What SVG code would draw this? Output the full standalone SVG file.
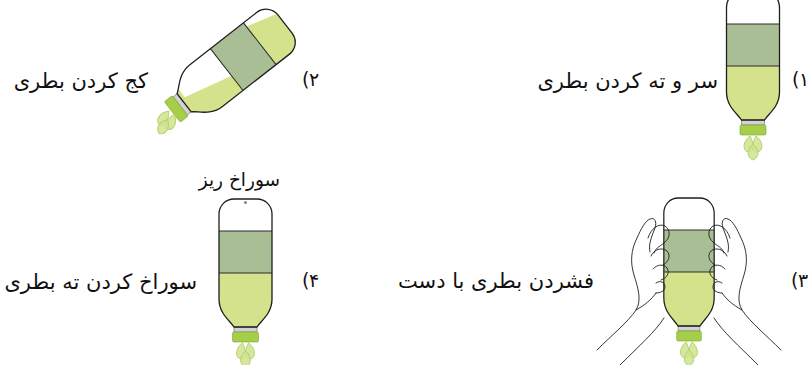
<svg xmlns="http://www.w3.org/2000/svg" xmlns:xlink="http://www.w3.org/1999/xlink" width="808" height="365" viewBox="0 0 808 365">
  <style>
    .label { font-family: "DejaVu Sans", "Noto Sans", sans-serif; font-size: 21px; fill: #111; }
    .small { font-family: "DejaVu Sans", "Noto Sans", sans-serif; font-size: 18.5px; fill: #111; }
    .num { font-family: "DejaVu Sans", "Noto Sans", sans-serif; font-size: 19px; fill: #111; }
    .liquid { fill: #d4e38b; }
    .band { fill: #a9be95; }
    .edge { fill: none; stroke: #1e1e1e; stroke-width: 1.3; }
    .seam { stroke: #2a2a2a; stroke-width: 1; }
    .drop { fill: #cfe38f; fill-opacity: 0.85; stroke: #b6d26b; stroke-width: 1; }
    .hand { fill: none; stroke: #1e1e1e; stroke-width: 0.9; stroke-linecap: round; stroke-linejoin: round; }
  </style>
  <defs>
    <!-- bottle body, local coords: top centre at 0,0, cap pointing down -->
    <path id="body" d="M -26.5 15 A 15 15 0 0 1 -11.5 0 L 11.5 0 A 15 15 0 0 1 26.5 15 L 26.5 100 C 26.5 115 15 122 11.5 128 L -11.5 128 C -15 122 -26.5 115 -26.5 100 Z"/>
    <clipPath id="body-clip"><use xlink:href="#body"/></clipPath>
    <g id="neck-cap">
      <rect x="-11.5" y="128" width="23" height="5" fill="#d2d2d2" stroke="#6a6a6a" stroke-width="0.6"/>
      <rect x="-13" y="133" width="26" height="10" rx="1.5" fill="#a5cf48" stroke="#7da336" stroke-width="0.6"/>
    </g>
    <!-- falling drops, origin at the cap's lower edge -->
    <g id="drops">
      <path class="drop" d="M -3 1 C -10 6 -11 15 -5 17 C 0 18 2 10 -3 1 Z"/>
      <path class="drop" d="M 3 1 C 10 6 11 15 5 17 C 0 18 -2 10 3 1 Z"/>
      <path class="drop" d="M 0 9 C -6 14 -7 22 0 25 C 7 22 6 14 0 9 Z"/>
    </g>
    <!-- upright (inverted) bottle -->
    <g id="bottle">
      <use xlink:href="#body" class="liquid"/>
      <g clip-path="url(#body-clip)">
        <rect x="-30" y="-5" width="60" height="37" fill="#ffffff"/>
        <rect x="-30" y="32" width="60" height="42" class="band"/>
      </g>
      <line class="seam" x1="-26.5" y1="32" x2="26.5" y2="32"/>
      <line class="seam" x1="-26.5" y1="74" x2="26.5" y2="74"/>
      <use xlink:href="#neck-cap"/>
      <use xlink:href="#body" class="edge"/>
      <use xlink:href="#drops" transform="translate(0 143)"/>
    </g>
    <!-- one hand, left side of the bottle -->
    <g id="hand">
      <path class="hand" d="M 597 350 C 612 335 628 322 636 310 C 642 300 638 288 634 275 C 630 262 631 250 637 238 C 641 229 645 221 650 219 C 655 217 657 222 655 228 C 652 236 648 244 650 252"/>
      <path class="hand" d="M 648 238 C 651 228 659 223 665 226 C 671 230 670 238 665 242 C 661 246 656 247 654 253"/>
      <path class="hand" d="M 651 256 C 654 249 662 247 667 251 C 671 255 669 262 663 265"/>
      <path class="hand" d="M 653 269 C 657 264 664 264 667 268 C 670 273 667 278 661 280"/>
      <path class="hand" d="M 656 283 C 660 280 665 282 665 287 C 665 291 660 293 656 293"/>
      <path class="hand" d="M 636 310 C 645 305 651 300 656 293"/>
      <path class="hand" d="M 620 365 C 640 345 655 332 664 318"/>
    </g>
  </defs>

  <!-- step 1 -->
  <g id="bottle-1" transform="translate(753 -8)">
    <use xlink:href="#bottle"/>
  </g>
  <g id="label-1">
    <text class="label" x="718" y="88" text-anchor="end">سر و ته کردن بطری</text>
    <text class="num" y="86"><tspan x="792">(</tspan><tspan x="799">۱</tspan></text>
  </g>

  <!-- step 2: tilted bottle -->
  <g id="bottle-2">
    <g transform="translate(285 24) rotate(52)">
      <use xlink:href="#body" class="liquid"/>
      <g clip-path="url(#body-clip)">
        <polygon points="-30,74 8,74 -4,124 -30,124" fill="#ffffff"/>
        <polygon points="-30,33 -22,33 -13,0 -30,-5" fill="#ffffff"/>
        <rect x="-30" y="32" width="60" height="42" class="band"/>
      </g>
      <line class="seam" x1="-26.5" y1="32" x2="26.5" y2="32"/>
      <line class="seam" x1="-26.5" y1="74" x2="26.5" y2="74"/>
      <use xlink:href="#neck-cap"/>
      <use xlink:href="#body" class="edge"/>
    </g>
    <use xlink:href="#drops" transform="translate(172 112) rotate(30)"/>
  </g>
  <g id="label-2">
    <text class="label" x="148" y="88" text-anchor="end">کج کردن بطری</text>
    <text class="num" y="86"><tspan x="302">(</tspan><tspan x="309">۲</tspan></text>
  </g>

  <!-- step 3: squeezing by hand -->
  <g id="bottle-3" transform="translate(689 198) scale(0.95 1)">
    <use xlink:href="#bottle"/>
  </g>
  <g id="hands">
    <use xlink:href="#hand"/>
    <use xlink:href="#hand" transform="translate(1378 0) scale(-1 1)"/>
  </g>
  <g id="label-3">
    <text class="label" x="594" y="288" text-anchor="end">فشردن بطری با دست</text>
    <text class="num" y="287"><tspan x="791">(</tspan><tspan x="798">۳</tspan></text>
  </g>

  <!-- step 4: pin hole in the base -->
  <g id="bottle-4" transform="translate(245.5 199)">
    <use xlink:href="#bottle"/>
    <circle cx="0" cy="3.5" r="1.6" fill="#8a8a8a"/>
  </g>
  <g id="label-4">
    <text class="small" x="280" y="186" text-anchor="end">سوراخ ریز</text>
    <text class="label" x="197" y="289" text-anchor="end">سوراخ کردن ته بطری</text>
    <text class="num" y="287"><tspan x="302">(</tspan><tspan x="309">۴</tspan></text>
  </g>
</svg>
